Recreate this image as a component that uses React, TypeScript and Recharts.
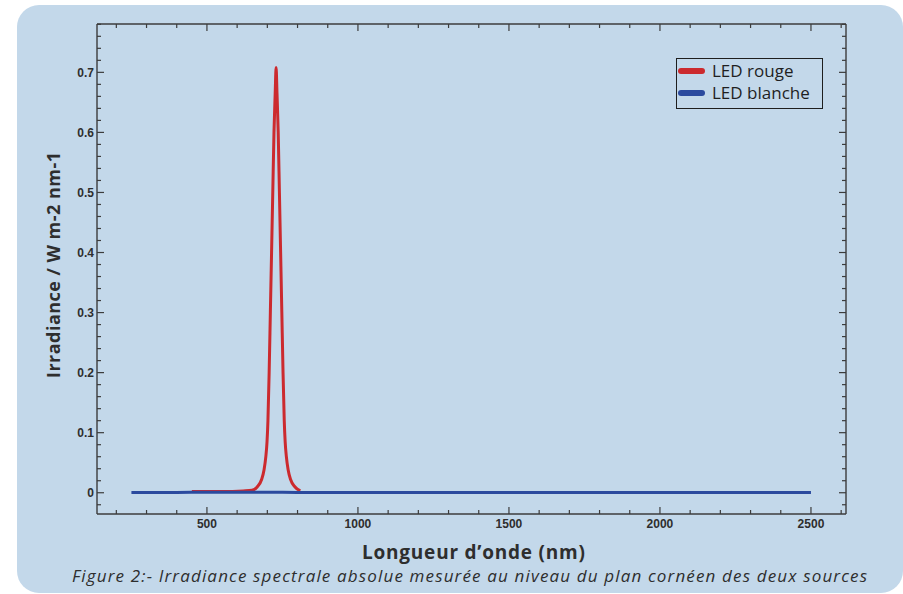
import React from "react";
import { LineChart, Line, XAxis, YAxis, Legend } from "recharts";

// ---- data (wavelength nm, irradiance W m-2 nm-1) ----
const redWavelengths = [450, 550, 620, 649, 667, 681, 689, 695, 699, 702, 706, 710, 714, 718, 722, 726, 729, 732, 736, 740, 744, 748, 752, 756, 759, 763, 769, 777, 791, 809];
const redValues = [0.002, 0.002, 0.003, 0.004, 0.01, 0.022, 0.038, 0.06, 0.085, 0.12, 0.2, 0.3, 0.4, 0.5, 0.6, 0.665, 0.708, 0.665, 0.6, 0.5, 0.4, 0.3, 0.2, 0.12, 0.085, 0.06, 0.038, 0.022, 0.01, 0.003];

const blueWavelengths = [250, 400, 500, 600, 700, 800, 1000, 1250, 1500, 1750, 2000, 2250, 2500];
const blueValues = [0.0005, 0.0006, 0.0008, 0.0008, 0.0007, 0.0006, 0.0005, 0.0005, 0.0005, 0.0005, 0.0006, 0.0005, 0.0004];

const xTicks = [200, 300, 400, 500, 600, 700, 800, 900, 1000, 1100, 1200, 1300, 1400, 1500, 1600, 1700, 1800, 1900, 2000, 2100, 2200, 2300, 2400, 2500, 2600];
const xMajorTicks = [500, 1000, 1500, 2000, 2500];
const yTicks = [-0.02, 0, 0.02, 0.04, 0.06, 0.08, 0.1, 0.12, 0.14, 0.16, 0.18, 0.2, 0.22, 0.24, 0.26, 0.28, 0.3, 0.32, 0.34, 0.36, 0.38, 0.4, 0.42, 0.44, 0.46, 0.48, 0.5, 0.52, 0.54, 0.56, 0.58, 0.6, 0.62, 0.64, 0.66, 0.68, 0.7, 0.72, 0.74, 0.76, 0.78];
const yMajorTicks = [0, 0.1, 0.2, 0.3, 0.4, 0.5, 0.6, 0.7];

const seriesNames = ["LED rouge", "LED blanche"];
const seriesColors = ["#cc2a2e", "#2b4a9e"];

const xTitle = "Longueur d\u2019onde (nm)";
const yTitle = "Irradiance / W m-2 nm-1";
const caption = "Figure 2:- Irradiance spectrale absolue mesur\u00e9e au niveau du plan corn\u00e9en des deux sources";

const redData = redWavelengths.map((w, i) => ({ w, v: redValues[i] }));
const blueData = blueWavelengths.map((w, i) => ({ w, v: blueValues[i] }));

const X_DOMAIN: [number, number] = [136, 2616];
const Y_DOMAIN: [number, number] = [-0.0354, 0.7805];

const BG = "#c3d8ea";
const AXIS = "#3c3c3c";
const TICK_FONT = "'Liberation Sans', Arial, sans-serif";
const TEXT = "#2e2e2e";

const isXMajor = (v: number) => xMajorTicks.includes(v);
const isYMajor = (v: number) => yMajorTicks.some((m) => Math.abs(m - v) < 1e-9);

const MAJOR = 7;
const MINOR = 4;

const BottomTick = (props: any) => {
  const { x, y, payload } = props;
  const major = isXMajor(payload.value);
  return (
    <g>
      <line x1={x} x2={x} y1={y} y2={y - (major ? MAJOR : MINOR)} stroke={AXIS} strokeWidth={1.2} />
      {major && (
        <text x={x} y={y + 14} textAnchor="middle" fontFamily={TICK_FONT} fontWeight="bold" fontSize={12} fill={TEXT}>
          {payload.value}
        </text>
      )}
    </g>
  );
};

const TopTick = (props: any) => {
  const { x, y, payload } = props;
  const major = isXMajor(payload.value);
  return <line x1={x} x2={x} y1={y} y2={y + (major ? MAJOR : MINOR)} stroke={AXIS} strokeWidth={1.2} />;
};

const LeftTick = (props: any) => {
  const { x, y, payload } = props;
  const major = isYMajor(payload.value);
  return (
    <g>
      <line x1={x} x2={x + (major ? MAJOR : MINOR)} y1={y} y2={y} stroke={AXIS} strokeWidth={1.2} />
      {major && (
        <text x={x - 3} y={y + 4.5} textAnchor="end" fontFamily={TICK_FONT} fontWeight="bold" fontSize={12} fill={TEXT}>
          {String(Math.round(payload.value * 10) / 10)}
        </text>
      )}
    </g>
  );
};

const RightTick = (props: any) => {
  const { x, y, payload } = props;
  const major = isYMajor(payload.value);
  return <line x1={x} x2={x - (major ? MAJOR : MINOR)} y1={y} y2={y} stroke={AXIS} strokeWidth={1.2} />;
};

const LegendBox = () => (
  <div
    style={{
      width: 144,
      height: 48,
      border: "1.5px solid #1e1e1e",
      padding: "1px 0 0 1px",
      boxSizing: "content-box",
      fontFamily: "'Open Sans', sans-serif",
      fontSize: 17,
      lineHeight: "22px",
      color: "#1f1f1f",
    }}
  >
    {seriesNames.map((n, i) => (
      <div key={n} style={{ display: "flex", alignItems: "center", height: 22, whiteSpace: "nowrap" }}>
        <span
          style={{
            display: "inline-block",
            width: 27,
            height: 6,
            borderRadius: 3,
            background: seriesColors[i],
            marginRight: 7,
          }}
        />
        <span>{n}</span>
      </div>
    ))}
  </div>
);

export default function App() {
  return (
    <div style={{ position: "absolute", left: 0, top: 0, width: 903, height: 594, background: "#ffffff", overflow: "hidden" }}>
      <div
        style={{
          position: "absolute",
          left: 17,
          top: 5,
          width: 886,
          height: 588,
          background: BG,
          borderRadius: 22,
        }}
      />
      <div style={{ position: "absolute", left: 0, top: 0 }}>
        <LineChart width={903} height={594} margin={{ top: 23, right: 56, bottom: 50, left: 37 }}>
          <XAxis
            xAxisId="bottom"
            dataKey="w"
            type="number"
            orientation="bottom"
            domain={X_DOMAIN}
            ticks={xTicks}
            interval={0}
            allowDataOverflow
            height={30}
            tickSize={0}
            tickMargin={0}
            tickLine={false}
            axisLine={{ stroke: AXIS, strokeWidth: 1.4 }}
            tick={BottomTick}
          />
          <XAxis
            xAxisId="top"
            dataKey="w"
            type="number"
            orientation="top"
            domain={X_DOMAIN}
            ticks={xTicks}
            interval={0}
            allowDataOverflow
            height={1}
            tickSize={0}
            tickMargin={0}
            tickLine={false}
            axisLine={{ stroke: AXIS, strokeWidth: 1.4 }}
            tick={TopTick}
          />
          <YAxis
            yAxisId="left"
            type="number"
            orientation="left"
            domain={Y_DOMAIN}
            ticks={yTicks}
            interval={0}
            allowDataOverflow
            width={60}
            tickSize={0}
            tickMargin={0}
            tickLine={false}
            axisLine={{ stroke: AXIS, strokeWidth: 1.4 }}
            tick={LeftTick}
          />
          <YAxis
            yAxisId="right"
            type="number"
            orientation="right"
            domain={Y_DOMAIN}
            ticks={yTicks}
            interval={0}
            allowDataOverflow
            width={1}
            tickSize={0}
            tickMargin={0}
            tickLine={false}
            axisLine={{ stroke: AXIS, strokeWidth: 1.4 }}
            tick={RightTick}
          />
          <Legend
            layout="horizontal"
            verticalAlign="middle"
            align="center"
            content={() => <LegendBox />}
            wrapperStyle={{ position: "absolute", left: 676, top: 58, width: 150, height: 52 }}
          />
          <Line
            xAxisId="bottom"
            yAxisId="left"
            data={redData}
            dataKey="v"
            name={seriesNames[0]}
            type="monotone"
            stroke={seriesColors[0]}
            strokeWidth={3}
            dot={false}
            activeDot={false}
            isAnimationActive={false}
          />
          <Line
            xAxisId="top"
            yAxisId="right"
            data={blueData}
            dataKey="v"
            name={seriesNames[1]}
            type="monotone"
            stroke={seriesColors[1]}
            strokeWidth={3}
            dot={false}
            activeDot={false}
            isAnimationActive={false}
          />
        </LineChart>
      </div>
      <svg width={903} height={594} style={{ position: "absolute", left: 0, top: 0, pointerEvents: "none" }}>
        <text
          transform="translate(60,265) rotate(-90)"
          textAnchor="middle"
          fontFamily="'Open Sans', sans-serif"
          fontWeight="bold"
          fontSize={18}
          fill={TEXT}
          textLength={226}
        >
          {yTitle}
        </text>
        <text
          x={473.5}
          y={559}
          textAnchor="middle"
          fontFamily="'Open Sans', sans-serif"
          fontWeight="bold"
          fontSize={19}
          fill={TEXT}
          textLength={223}
        >
          {xTitle}
        </text>
        <text
          x={469.5}
          y={582}
          textAnchor="middle"
          fontFamily="'Open Sans', sans-serif"
          fontStyle="italic"
          fontSize={17}
          fill={TEXT}
          textLength={795}
        >
          {caption}
        </text>
      </svg>
    </div>
  );
}
